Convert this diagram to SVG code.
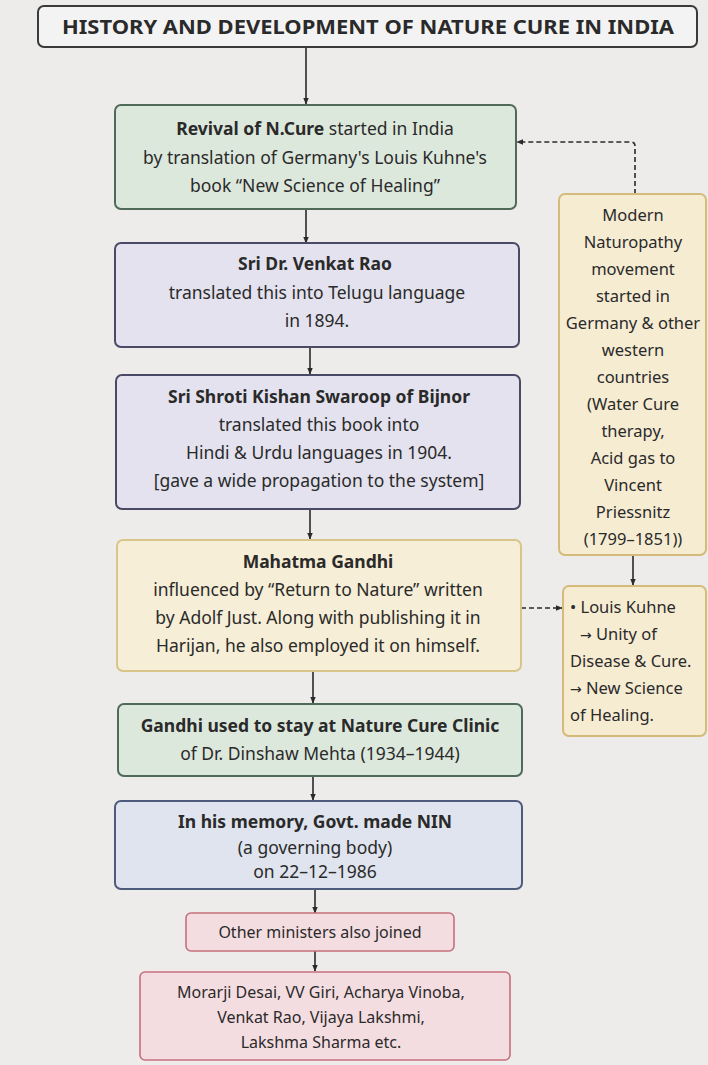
<svg xmlns="http://www.w3.org/2000/svg" width="708" height="1065" viewBox="0 0 708 1065">
<defs>
<style>
.t{font-family:"Noto Sans","Open Sans","Liberation Sans",sans-serif;font-size:17.5px;fill:#2a2a2a;text-anchor:middle}
.s{font-size:16.5px}
.p{font-size:16px}
.b{font-weight:bold}
.l{text-anchor:start}
.ar{font-family:"DejaVu Sans",sans-serif;font-size:14px}
.green{fill:#dde8dd;stroke:#4f6a58;stroke-width:2}
.purple{fill:#e3e2ee;stroke:#4a4a66;stroke-width:2}
.yellow{fill:#f6eed6;stroke:#d9c58a;stroke-width:2}
.blue{fill:#dfe4ee;stroke:#4d5c7c;stroke-width:2}
.pink{fill:#f4dde1;stroke:#c66f7c;stroke-width:1.6}
.side{fill:#f6ecd2;stroke:#d4bb7a;stroke-width:2}
.ln{stroke:#2a2a2a;stroke-width:1.6;fill:none}
.dash{stroke:#2a2a2a;stroke-width:1.6;fill:none;stroke-dasharray:5 3}
</style>
<marker id="ah" viewBox="0 0 10 10" refX="9" refY="5" markerWidth="7" markerHeight="7" orient="auto-start-reverse" markerUnits="userSpaceOnUse">
<path d="M0,1 L10,5 L0,9 z" fill="#2a2a2a"/>
</marker>
</defs>
<rect width="708" height="1065" fill="#edecea"/>

<g id="connectors">
<line class="ln" x1="306" y1="47" x2="306" y2="104" marker-end="url(#ah)"/>
<line class="ln" x1="306" y1="209" x2="306" y2="243" marker-end="url(#ah)"/>
<line class="ln" x1="310" y1="347" x2="310" y2="374" marker-end="url(#ah)"/>
<line class="ln" x1="310" y1="509" x2="310" y2="539" marker-end="url(#ah)"/>
<line class="ln" x1="313" y1="671" x2="313" y2="703" marker-end="url(#ah)"/>
<line class="ln" x1="313" y1="776" x2="313" y2="800" marker-end="url(#ah)"/>
<line class="ln" x1="315" y1="889" x2="315" y2="913" marker-end="url(#ah)"/>
<line class="ln" x1="315" y1="951" x2="315" y2="971" marker-end="url(#ah)"/>
<line class="ln" x1="633" y1="555" x2="633" y2="585" marker-end="url(#ah)"/>
<path class="dash" d="M635,194 L635,146 Q635,142 631,142 L517,142" marker-end="url(#ah)"/>
<line class="dash" x1="521" y1="608" x2="562" y2="608" marker-end="url(#ah)"/>
</g>

<g id="title">
<rect x="38" y="6" width="659" height="41" rx="6" fill="#f3f3f3" stroke="#3a3a3a" stroke-width="2"/>
<text class="t b" x="368" y="34" style="font-size:20px" textLength="612" lengthAdjust="spacingAndGlyphs">HISTORY AND DEVELOPMENT OF NATURE CURE IN INDIA</text>
</g>

<g id="revival">
<rect class="green" x="115" y="105" width="401" height="104" rx="6"/>
<text class="t" x="315" y="135"><tspan font-weight="bold">Revival of N.Cure</tspan> started in India</text>
<text class="t" x="315" y="164">by translation of Germany's Louis Kuhne's</text>
<text class="t" x="315" y="192">book “New Science of Healing”</text>
</g>

<g id="venkat">
<rect class="purple" x="115" y="243" width="404" height="104" rx="6"/>
<text class="t b" x="315" y="270">Sri Dr. Venkat Rao</text>
<text class="t" x="317" y="299">translated this into Telugu language</text>
<text class="t" x="317" y="327">in 1894.</text>
</g>

<g id="shroti">
<rect class="purple" x="116" y="375" width="404" height="134" rx="6"/>
<text class="t b" x="319" y="403">Sri Shroti Kishan Swaroop of Bijnor</text>
<text class="t" x="319" y="431">translated this book into</text>
<text class="t" x="319" y="459">Hindi &amp; Urdu languages in 1904.</text>
<text class="t" x="319" y="487">[gave a wide propagation to the system]</text>
</g>

<g id="gandhi">
<rect class="yellow" x="117" y="540" width="404" height="131" rx="6"/>
<text class="t b" x="318" y="568">Mahatma Gandhi</text>
<text class="t" x="318" y="596">influenced by “Return to Nature” written</text>
<text class="t" x="318" y="624">by Adolf Just. Along with publishing it in</text>
<text class="t" x="318" y="652">Harijan, he also employed it on himself.</text>
</g>

<g id="clinic">
<rect class="green" x="118" y="704" width="404" height="72" rx="6"/>
<text class="t b" x="320" y="732">Gandhi used to stay at Nature Cure Clinic</text>
<text class="t" x="320" y="760">of Dr. Dinshaw Mehta (1934–1944)</text>
</g>

<g id="nin">
<rect class="blue" x="115" y="801" width="407" height="88" rx="6"/>
<text class="t b" x="315" y="828">In his memory, Govt. made NIN</text>
<text class="t" x="315" y="854">(a governing body)</text>
<text class="t" x="315" y="878">on 22–12–1986</text>
</g>

<g id="ministers">
<rect class="pink" x="186" y="913" width="268" height="38" rx="5"/>
<text class="t p" x="320" y="938">Other ministers also joined</text>
</g>

<g id="names">
<rect class="pink" x="140" y="972" width="370" height="88" rx="5"/>
<text class="t p" x="321" y="998">Morarji Desai, VV Giri, Acharya Vinoba,</text>
<text class="t p" x="321" y="1023">Venkat Rao, Vijaya Lakshmi,</text>
<text class="t p" x="321" y="1048">Lakshma Sharma etc.</text>
</g>

<g id="modern">
<rect class="side" x="559" y="194" width="147" height="361" rx="6"/>
<text class="t s" x="633" y="221">Modern</text>
<text class="t s" x="633" y="248">Naturopathy</text>
<text class="t s" x="633" y="275">movement</text>
<text class="t s" x="633" y="302">started in</text>
<text class="t s" x="633" y="329">Germany &amp; other</text>
<text class="t s" x="633" y="356">western</text>
<text class="t s" x="633" y="383">countries</text>
<text class="t s" x="633" y="410">(Water Cure</text>
<text class="t s" x="633" y="437">therapy,</text>
<text class="t s" x="633" y="464">Acid gas to</text>
<text class="t s" x="633" y="491">Vincent</text>
<text class="t s" x="633" y="518">Priessnitz</text>
<text class="t s" x="633" y="545">(1799–1851))</text>
</g>

<g id="kuhne">
<rect class="side" x="563" y="586" width="143" height="150" rx="6"/>
<text class="t s l" x="570" y="613">• Louis Kuhne</text>
<text class="t s l" x="580" y="640"><tspan class="ar">→</tspan> Unity of</text>
<text class="t s l" x="570" y="667">Disease &amp; Cure.</text>
<text class="t s l" x="570" y="694"><tspan class="ar">→</tspan> New Science</text>
<text class="t s l" x="570" y="721">of Healing.</text>
</g>
</svg>
